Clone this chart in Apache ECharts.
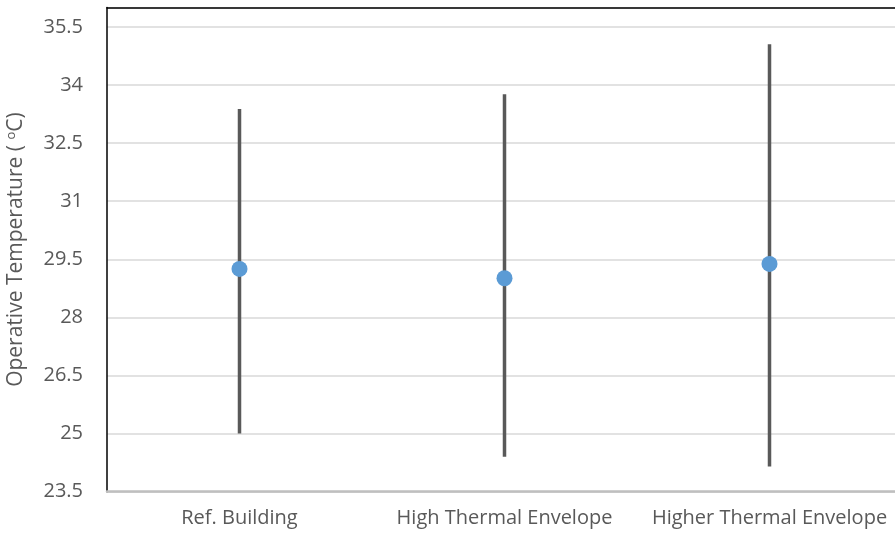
<!DOCTYPE html>
<html>
<head>
<meta charset="utf-8">
<style>
  html, body { margin: 0; padding: 0; background: #fff; }
  #chart { width: 895px; height: 536px; }
</style>
<script src="https://cdn.jsdelivr.net/npm/echarts@6/dist/echarts.min.js"></script>
</head>
<body>
<div id="chart"></div>
<script>
// Operative temperature per building variant: mean with min–max range
const categories = ['Ref. Building', 'High Thermal Envelope', 'Higher Thermal Envelope'];
const meanTemp = [29.25, 29.01, 29.38];
const minTemp = [25.0, 24.4, 24.15];
const maxTemp = [33.38, 33.76, 35.05];
const yTicks = [23.5, 25, 26.5, 28, 29.5, 31, 32.5, 34, 35.5];

const FONT = 'Open Sans';
const TEXT = '#595959';

const rangeData = categories.map((c, i) => [i, minTemp[i], maxTemp[i]]);

const chart = echarts.init(document.getElementById('chart'));
chart.setOption({
  animation: false,
  grid: {
    left: 107, right: -7, top: 7.5, bottom: 44.3,
    containLabel: false,
    outerBoundsMode: 'none'
  },
  xAxis: [
    {
      type: 'category',
      data: categories,
      boundaryGap: true,
      axisLine: { show: true, lineStyle: { color: '#bfbfbf', width: 2.5 } },
      axisTick: { show: false },
      axisLabel: {
        color: TEXT, fontFamily: FONT, fontSize: 20, margin: 17,
        interval: 0, hideOverlap: false
      }
    },
    {
      type: 'category',
      data: categories,
      position: 'top',
      axisLine: { show: true, lineStyle: { color: '#000', width: 1.5 } },
      axisTick: { show: false },
      axisLabel: { show: false }
    }
  ],
  yAxis: {
    type: 'value',
    min: 23.5,
    max: 36,
    interval: 1.5,
    axisLine: { show: true, lineStyle: { color: '#000', width: 1.5 } },
    axisTick: { show: false },
    axisLabel: {
      color: TEXT, fontFamily: FONT, fontSize: 20, margin: 24,
      formatter: v => (yTicks.some(t => Math.abs(t - v) < 1e-6) ? String(v) : '')
    },
    splitLine: { lineStyle: { color: '#d9d9d9', width: 1.5 } },
    name: '{a|Operative Temperature ( }{s|o}{a|C)}',
    nameLocation: 'middle',
    nameGap: 80,
    nameRotate: 90,
    nameTextStyle: {
      rich: {
        a: { color: TEXT, fontFamily: FONT, fontSize: 21 },
        s: { color: TEXT, fontFamily: FONT, fontSize: 13, verticalAlign: 'bottom', padding: [0, 0, 9, 0] }
      }
    }
  },
  series: [
    {
      type: 'custom',
      data: rangeData,
      encode: { x: 0, y: [1, 2] },
      renderItem: (params, api) => {
        const lo = api.coord([api.value(0), api.value(1)]);
        const hi = api.coord([api.value(0), api.value(2)]);
        return {
          type: 'line',
          shape: { x1: lo[0], y1: lo[1], x2: hi[0], y2: hi[1] },
          style: { stroke: '#595959', lineWidth: 3.5 }
        };
      },
      z: 2
    },
    {
      type: 'scatter',
      data: meanTemp,
      symbol: 'circle',
      symbolSize: 16,
      itemStyle: { color: '#5b9bd5', opacity: 1 },
      z: 3
    }
  ]
});
</script>
</body>
</html>
